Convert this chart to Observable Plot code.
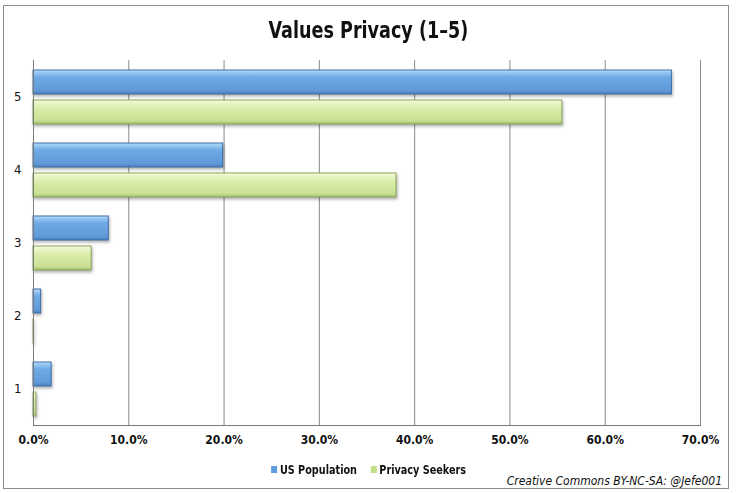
<!DOCTYPE html>
<html><head><meta charset="utf-8">
<script src="https://cdn.jsdelivr.net/npm/d3@7"></script>
<script src="https://cdn.jsdelivr.net/npm/@observablehq/plot@0.6"></script>
<style>
body{margin:0;background:#fff;}
#wrap{position:relative;width:737px;height:493px;overflow:hidden;font-family:"DejaVu Sans Condensed","DejaVu Sans",sans-serif;font-stretch:condensed;color:#111;}
#frame{position:absolute;left:3px;top:5px;width:726px;height:484px;border:1px solid #8c8c8c;box-sizing:border-box;}
#title{position:absolute;left:0;width:737px;top:17px;text-align:center;font-weight:bold;font-size:23px;transform:scaleX(0.85);transform-origin:368px 0;}
#chart{position:absolute;left:0;top:0;}
#legend{position:absolute;top:462px;left:0;width:737px;text-align:center;font-weight:bold;font-size:12.5px;transform:scaleX(0.86);transform-origin:370px 0;}
#legend span.sw{display:inline-block;width:7px;height:7px;margin-right:3px;vertical-align:1px;}
#legend span.item{margin:0 8px;}
#caption{position:absolute;right:15px;top:474px;font-style:italic;font-size:12px;}
</style>
</head><body>
<div id="wrap">
<div id="frame"></div>
<div id="chart"></div>
<div id="title">Values Privacy (1–5)</div>
<div id="legend"></div>
<div id="caption">Creative Commons BY-NC-SA: @Jefe001</div>
</div>
<script>
const categories = ["5", "4", "3", "2", "1"];
const series = ["US Population", "Privacy Seekers"];
const usPopulation = [67.0, 19.9, 7.9, 0.8, 1.9];
const privacySeekers = [55.5, 38.1, 6.1, 0.05, 0.3];
const xTicks = [0, 0.1, 0.2, 0.3, 0.4, 0.5, 0.6, 0.7];
const seriesFill = ["url(#gBlue)", "url(#gGreen)"];
const seriesStroke = ["#3f6fa6", "#8aa65a"];
const legendColor = ["#5f9de0", "#c4df8a"];

const data = categories.flatMap((c, i) => [
  {category: c, series: series[0], value: usPopulation[i] / 100},
  {category: c, series: series[1], value: privacySeekers[i] / 100}
]);

const font = '"DejaVu Sans Condensed","DejaVu Sans",sans-serif';

const chart = Plot.plot({
  width: 737,
  height: 452,
  marginTop: 60,
  marginBottom: 27,
  marginLeft: 33,
  marginRight: 37,
  style: {fontFamily: font, fontSize: "12px", color: "#111", background: "transparent", fontStretch: "condensed"},
  x: {domain: [0, 0.7], label: null},
  fy: {domain: categories, padding: 0, label: null},
  y: {domain: series, paddingInner: 0.216, paddingOuter: 0.29, axis: null},
  marks: [
    Plot.gridX(xTicks, {stroke: "#8a8a8a", strokeOpacity: 1}),
    ...series.map((s, k) => Plot.barX(data.filter(d => d.series === s), {
      x: "value", y: "series", fy: "category",
      fill: seriesFill[k], stroke: seriesStroke[k], strokeWidth: 1,
      imageFilter: "drop-shadow(1px 2px 1.5px rgba(0,0,0,0.3))"
    })),
    Plot.ruleX([0], {stroke: "#7a7a7a"}),
    Plot.frame({anchor: "bottom", fy: ["1"], stroke: "#7a7a7a"}),
    Plot.axisX({ticks: xTicks, tickFormat: d3.format(".1%"), tickSize: 0, tickPadding: 10, fontWeight: "bold", fontSize: 12}),
    Plot.axisFy({anchor: "left", tickSize: 0, tickPadding: 12, fontSize: 13, label: null})
  ]
});

const svg = d3.select(chart);
const defs = svg.insert("defs", ":first-child");
const g1 = defs.append("linearGradient").attr("id", "gBlue").attr("x1", 0).attr("y1", 0).attr("x2", 0).attr("y2", 1);
[[0, "#b7dcfa"], [0.12, "#93c6f2"], [0.3, "#6ea9e5"], [0.85, "#6099d9"], [1, "#4a7fbd"]].forEach(([o, c]) => g1.append("stop").attr("offset", o).attr("stop-color", c));
const g2 = defs.append("linearGradient").attr("id", "gGreen").attr("x1", 0).attr("y1", 0).attr("x2", 0).attr("y2", 1);
[[0, "#f6fbe0"], [0.15, "#e8f4c4"], [0.4, "#d8eca8"], [0.85, "#c9e194"], [1, "#a3bf6e"]].forEach(([o, c]) => g2.append("stop").attr("offset", o).attr("stop-color", c));

document.getElementById("chart").appendChild(chart);

const legend = document.getElementById("legend");
series.forEach((s, k) => {
  const item = document.createElement("span");
  item.className = "item";
  const sw = document.createElement("span");
  sw.className = "sw";
  sw.style.background = legendColor[k];
  item.appendChild(sw);
  item.appendChild(document.createTextNode(s));
  legend.appendChild(item);
});
</script>
</body></html>
